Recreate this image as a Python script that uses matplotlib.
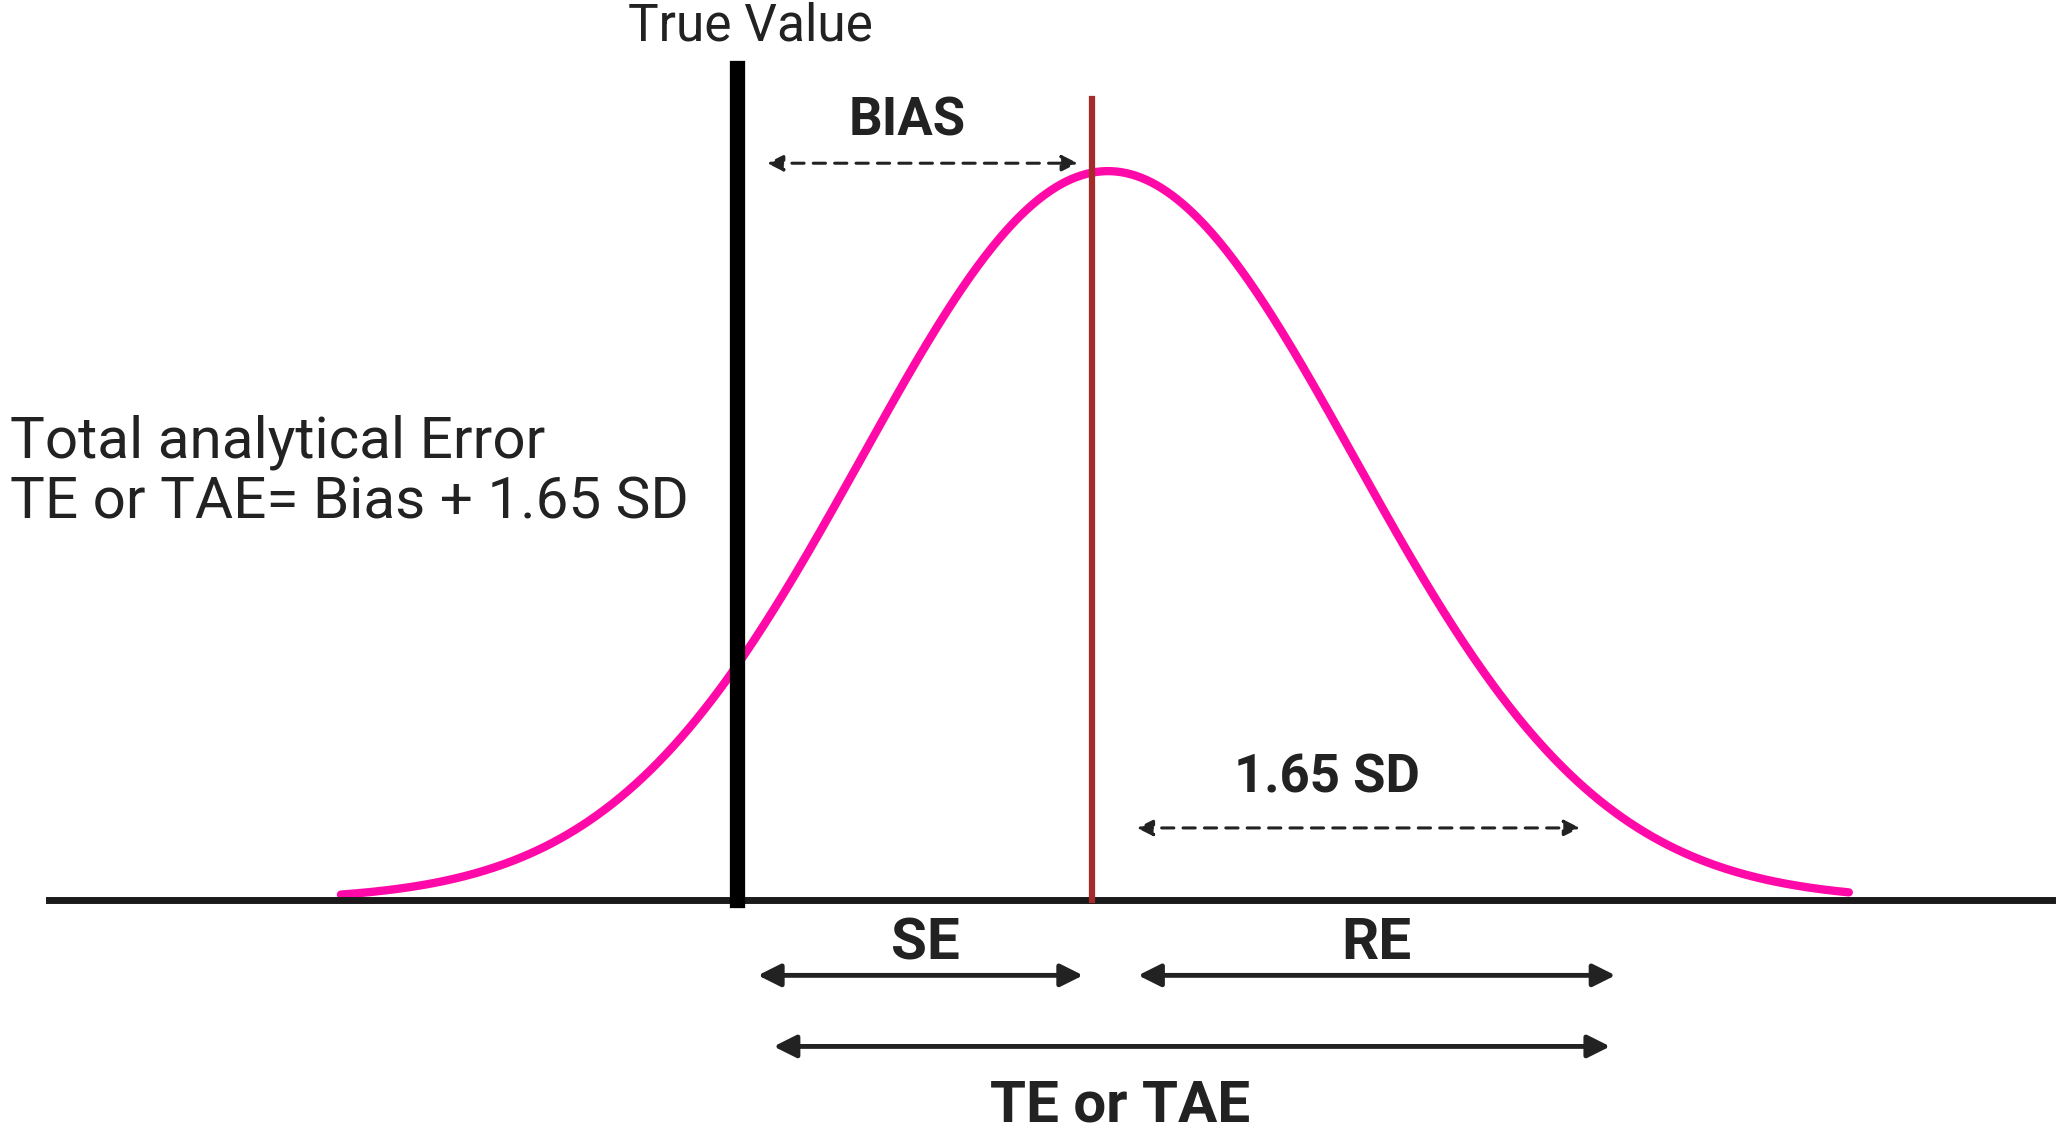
import numpy as np
import matplotlib
matplotlib.use("Agg")
import matplotlib.pyplot as plt

# Values (in diagram units, measured on the picture)
true_value = 562
mean_value = 845
bias_line = 833
sd = 188
peak = 554
curve_range = (260, 1410)
baseline = 684

fig = plt.figure(figsize=(20.56, 11.32), dpi=100)
ax = fig.add_axes([0, 0, 1, 1])
ax.set_xlim(0, 1568)
ax.set_ylim(860, 0)
ax.axis("off")
fam = ["Roboto", "DejaVu Sans"]

x = np.linspace(*curve_range, 600)
y = baseline - peak * np.exp(-(x - mean_value) ** 2 / (2 * sd ** 2))
ax.plot(x, y, color="#ff0aa8", lw=6, solid_capstyle="round", zorder=2)

ax.plot([37, 1565], [baseline, baseline], color="#1a1a1a", lw=5, zorder=3)
ax.plot([true_value, true_value], [52, baseline], color="black", lw=11, zorder=4)
ax.plot([bias_line, bias_line], [75, baseline], color="#a52a2a", lw=4.5, zorder=4)

def arrow(x0, x1, yy, dashed=False, lw=3.5):
    ax.annotate("", xy=(x1, yy), xytext=(x0, yy),
                arrowprops=dict(arrowstyle="<|-|>", color="#222222", lw=lw,
                                linestyle=(0, (4, 3)) if dashed else "-",
                                mutation_scale=34 if not dashed else 24,
                                shrinkA=0, shrinkB=0))

arrow(585, 822, 124, dashed=True, lw=2.2)
arrow(867, 1205, 629, dashed=True, lw=2.2)
arrow(578, 826, 741)
arrow(868, 1232, 741)
arrow(590, 1228, 795)

c = "#222222"
ax.text(572, 20, "True Value", ha="center", va="center", fontsize=37, family=fam, color=c)
ax.text(692, 92, "BIAS", ha="center", va="center", fontsize=38, weight="bold", family=fam, color=c)
ax.text(1012, 591, "1.65 SD", ha="center", va="center", fontsize=38, weight="bold", family=fam, color=c)
ax.text(706, 717, "SE", ha="center", va="center", fontsize=42, weight="bold", family=fam, color=c)
ax.text(1050, 717, "RE", ha="center", va="center", fontsize=42, weight="bold", family=fam, color=c)
ax.text(854, 840, "TE or TAE", ha="center", va="center", fontsize=42, weight="bold", family=fam, color=c)
ax.text(8, 336, "Total analytical Error", ha="left", va="center", fontsize=42, family=fam, color=c)
ax.text(8, 382, "TE or TAE= Bias + 1.65 SD", ha="left", va="center", fontsize=42, family=fam, color=c)

fig.savefig("out.png", dpi=100, facecolor="white")
